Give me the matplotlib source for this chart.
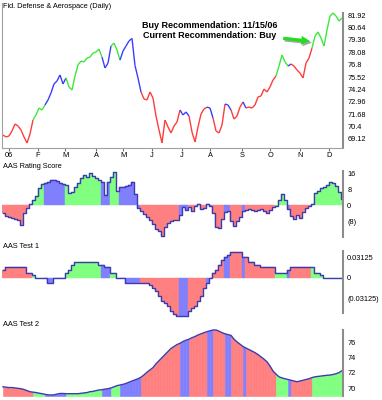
import numpy as np
import matplotlib
matplotlib.use("Agg")
import matplotlib.pyplot as plt
from matplotlib.collections import LineCollection
from matplotlib.patches import FancyArrowPatch

plt.rcParams['font.family'] = ['Liberation Sans', 'DejaVu Sans']

W, H = 382, 400

# x axis: one step ~ two trading days of 2006
month_labels = ["06", "F", "M", "A", "M", "J", "J", "A", "S", "O", "N", "D"]
month_pos = [2, 11.7, 20.7, 31, 40, 49.7, 59.7, 69, 79.7, 89, 99, 108.7]

price = [
    69.53, 69.33, 69.43, 69.95, 70.67, 70.46, 70.05, 69.33, 68.71, 69.64,
    71.08, 71.60, 72.32, 72.11, 72.63, 73.15, 73.87, 74.80, 75.11, 75.73,
    74.80, 75.42, 74.49, 74.18, 75.62, 76.76, 77.17, 77.07, 77.48, 77.58,
    77.99, 78.10, 78.41, 77.58, 76.45, 76.96, 78.72, 79.03, 78.31, 77.27,
    78.20, 78.72, 79.24, 79.50, 76.70, 75.42, 73.97, 73.25, 73.15, 73.97,
    73.35, 71.49, 70.05, 68.71, 71.08, 70.36, 69.74, 70.46, 70.87, 72.11,
    71.60, 71.91, 71.49, 69.84, 68.81, 70.36, 71.70, 72.22, 72.41, 72.32,
    71.29, 69.95, 69.74, 70.56, 72.73, 72.63, 72.11, 71.18, 71.49, 72.41,
    72.94, 72.32, 72.42, 72.32, 72.63, 73.46, 73.56, 74.28, 73.97, 74.49,
    75.21, 75.62, 76.65, 77.79, 77.07, 76.65, 76.86, 76.65, 76.24, 75.93,
    75.42, 76.96, 77.48, 78.51, 79.75, 80.17, 79.55, 78.72, 80.37, 81.82,
    82.13, 81.82, 81.30, 81.61,
]

# recommendation state: r = sell, b = hold, g = buy
signal_runs = [
    ("r", 10), ("g", 4), ("b", 7), ("g", 12), ("b", 3), ("g", 3), ("b", 7),
    ("r", 13), ("b", 3), ("r", 6), ("b", 2), ("r", 4), ("b", 2), ("r", 4),
    ("b", 1), ("r", 10), ("g", 4), ("b", 1), ("r", 7), ("g", 11),
]

rating = [
    -4, -5.5, -6, -6.5, -7, -7.5, -10, -4, -1.5, 0.5,
    2.5, 4.5, 8.5, 10.5, 11, 11.5, 12.5, 12.5, 12, 11,
    10.5, 10, 6, 6.5, 9, 11, 13.5, 15, 14, 15.8,
    14.5, 13.5, 12.5, 11.5, 5, 11.5, 14, 16.5, 7, 9,
    9, 9.5, 10, 11.5, 5.5, -1.5, -3, -4.5, -6, -7.5,
    -9.5, -12, -13, -15.5, -11, -9, -8, -7.5, -7.5, -5,
    -1, -2.5, -1, -3, -0.5, 0.5, -2, -1.5, 0.5, -0.5,
    -4, -11, -11.5, -7, -3.5, -3, -8, -10.5, -8, -6,
    -3, -2.5, -2, -2.5, -3, -2.5, -2, -3, -4, -2.5,
    -1, -0.5, 2.5, 5.5, 2.5, -2, -5.5, -7, -5, -6.5,
    -3.5, -1.5, -0.5, 0.5, 6, 7, 8.5, 9, 10, 11.5,
    11, 9.5, 6.5, 3,
]

# AAS Test 1 in 1/256 units
test1_256 = [
    3, 4, 4, 4, 4, 4, 4, 4, 2, 2,
    1, 0, 0, 0, 0, -2, -2, 0, 0, 0,
    0, 2, 3, 5, 6, 6, 6, 6, 6, 6,
    6, 6, 5, 5, 4, 4, 2, 2, 0, 0,
    0, -2, -2, -2, -2, -2, -2, -2, -2, -3,
    -4, -5, -7, -9, -10, -11, -13, -14, -15, -15,
    -15, -15, -13, -12, -11, -9, -7, -4, -2, 0,
    2, 3, 5, 7, 8, 9, 10, 10, 10, 10,
    8, 8, 6, 6, 5, 5, 4, 4, 4, 4,
    4, 2, 2, 2, 2, 3, 4, 4, 4, 4,
    4, 4, 4, 4, 2, 2, 1, 0, 0, 0,
    0, 0, 0, 0,
]

test2 = [
    70.2, 70.15, 70.1, 70.1, 70.05, 70.0, 69.95, 69.85, 69.7, 69.56,
    69.5, 69.45, 69.37, 69.3, 69.22, 69.15, 69.13, 69.15, 69.25, 69.33,
    69.33, 69.3, 69.3, 69.3, 69.3, 69.3, 69.35, 69.4, 69.45, 69.56,
    69.6, 69.7, 69.78, 69.82, 69.9, 69.95, 70.05, 70.2, 70.35, 70.43,
    70.52, 70.63, 70.8, 70.95, 71.1, 71.25, 71.45, 71.75, 72.1, 72.4,
    72.7, 73.2, 73.6, 74.0, 74.4, 74.8, 75.2, 75.45, 75.7, 75.87,
    76.1, 76.27, 76.4, 76.6, 76.75, 76.95, 77.1, 77.25, 77.38, 77.5,
    77.6, 77.6, 77.45, 77.25, 77.1, 77.0, 76.9, 76.4, 76.05, 75.75,
    75.45, 75.25, 75.05, 74.85, 74.65, 74.4, 74.1, 73.8, 73.45, 72.9,
    72.25, 71.85, 71.5, 71.35, 71.25, 71.15, 71.05, 70.95, 70.86, 70.95,
    71.05, 71.15, 71.25, 71.4, 71.5, 71.55, 71.6, 71.65, 71.7, 71.73,
    71.8, 71.9, 72.05, 72.3,
]

price_ticks = [69.12, 70.4, 71.68, 72.96, 74.24, 75.52, 76.8, 78.08, 79.36, 80.64, 81.92]
price_tick_labels = ["69.12", "70.4", "71.68", "72.96", "74.24", "75.52", "76.8",
                     "78.08", "79.36", "80.64", "81.92"]

line_colors = {"r": "#ff3c3c", "g": "#3ce83c", "b": "#3c3cff"}
fill_colors = {"r": "#ff8080", "g": "#80ff80", "b": "#8080ff"}
outline = "#3c3cb0"
axis_gray = "#8c8c8c"
FS = 5.3

signal = [s for s, n in signal_runs for _ in range(n)]
x = np.arange(len(price))
XLIM = (-1 / 3, 113.33)


def px_axes(fig, x0, y0, x1, y1):
    return fig.add_axes([x0 / W, 1 - y1 / H, (x1 - x0) / W, (y1 - y0) / H])


def right_axis(ax, ticks, labels, bounds):
    for side in ["top", "left", "bottom"]:
        ax.spines[side].set_visible(False)
    ax.spines["right"].set_color(axis_gray)
    ax.spines["right"].set_linewidth(1.5)
    ax.spines["right"].set_bounds(*bounds)
    ax.yaxis.tick_right()
    ax.set_yticks(ticks, labels)
    ax.tick_params(axis="y", length=0, pad=3, labelsize=FS)
    ax.set_xticks([])
    ax.set_xlim(*XLIM)


fig = plt.figure(figsize=(W / 100, H / 100), dpi=100)

# price panel
ax = px_axes(fig, 2, 3, 343, 148)
pts = np.column_stack([x, price])
segs = np.stack([pts[:-1], pts[1:]], axis=1)
lc = LineCollection(segs, colors=[line_colors[s] for s in signal[:-1]], linewidths=1)
ax.add_collection(lc)
ax.set_ylim(68.19, 83.16)
right_axis(ax, price_ticks, price_tick_labels, (68.3, 82.1))
ax.spines["left"].set_visible(True)
ax.spines["bottom"].set_visible(True)
ax.spines["left"].set_color("#a0a0a0")
ax.spines["bottom"].set_color("#a0a0a0")
ax.spines["left"].set_linewidth(0.8)
ax.spines["bottom"].set_linewidth(0.8)
ax.set_xticks(month_pos, month_labels)
ax.tick_params(axis="x", length=2, pad=1, labelsize=FS, color="#707070")

fig.text(3 / W, 1 - 7 / H, "Fid. Defense & Aerospace (Daily)", ha="left", va="center", fontsize=FS)
fig.text(210 / W, 1 - 25 / H, "Buy Recommendation: 11/15/06", ha="center", va="center",
         fontsize=6.5, fontweight="bold")
fig.text(210 / W, 1 - 36 / H, "Current Recommendation: Buy", ha="center", va="center",
         fontsize=6.5, fontweight="bold")

# arrow pointing at the buy signal (last switch to green)
buy_idx = len(signal) - 11
head = (buy_idx - 0.6, price[buy_idx] + 0.7)
tail = (head[0] - 9, head[1] + 0.3)
for dx, dy, col in [(0.5, -0.16, "#a8a8a8"), (0, 0, "#22dd22")]:
    arr = FancyArrowPatch((tail[0] + dx, tail[1] + dy), (head[0] + dx, head[1] + dy),
                          arrowstyle="simple,head_length=0.8,head_width=0.8,tail_width=0.3",
                          mutation_scale=8, color=col, lw=0, shrinkA=0, shrinkB=0,
                          clip_on=False)
    ax.add_patch(arr)

# rating panel
ax2 = px_axes(fig, 2, 168, 343, 240)
ax2.bar(x, rating, width=1, color=[fill_colors[s] for s in signal], linewidth=0.3,
        edgecolor=[fill_colors[s] for s in signal])
ax2.step(x, rating, where="mid", color=outline, lw=1)
ax2.set_ylim(-17.5, 18.5)
right_axis(ax2, [16, 8, 0, -8], ["16", "8", "0", "(8)"], (-16, 17))
fig.text(3 / W, 1 - 166 / H, "AAS Rating Score", ha="left", va="center", fontsize=FS)

# test 1 panel
t1 = np.array(test1_256) / 256
ax3 = px_axes(fig, 2, 248, 343, 318)
ax3.bar(x, t1, width=1, color=[fill_colors[s] for s in signal], linewidth=0.3,
        edgecolor=[fill_colors[s] for s in signal])
ax3.step(x, t1, where="mid", color=outline, lw=1)
ax3.set_ylim(-0.0614, 0.0453)
right_axis(ax3, [0.03125, 0, -0.03125], ["0.03125", "0", "(0.03125)"], (-0.0538, 0.0405))
fig.text(3 / W, 1 - 246 / H, "AAS Test 1", ha="left", va="center", fontsize=FS)

# test 2 panel
base = 69.0
ax4 = px_axes(fig, 2, 328, 343, 396)
for i in range(len(x) - 1):
    c = fill_colors[signal[i]]
    ax4.fill_between(x[i:i + 2], test2[i:i + 2], base, color=c, lw=0.4, edgecolor=c)
ax4.plot(x, test2, color=outline, lw=1)
ax4.set_ylim(base, 77.86)
right_axis(ax4, [76, 74, 72, 70], ["76", "74", "72", "70"], (69.0, 77.6))
fig.text(3 / W, 1 - 325 / H, "AAS Test 2", ha="left", va="center", fontsize=FS)

fig.savefig("out.png", dpi=100)
